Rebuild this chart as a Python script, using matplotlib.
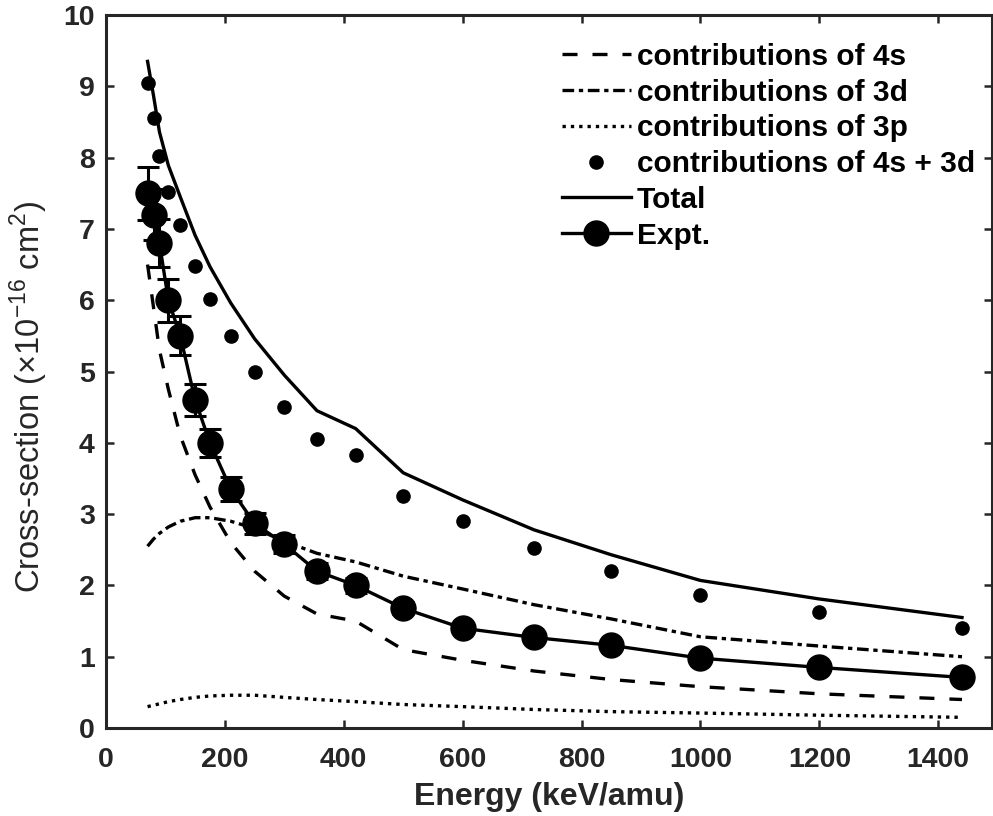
import matplotlib
matplotlib.use("Agg")
import matplotlib.pyplot as plt

plt.rcParams['font.family'] = ['Liberation Sans', 'DejaVu Sans']
plt.rcParams['mathtext.fontset'] = 'custom'
plt.rcParams['mathtext.rm'] = 'Liberation Sans'

# Impact energies (keV/amu)
energy = [70, 80, 90, 105, 125, 150, 175, 210, 250, 300, 355, 420, 500,
          600, 720, 850, 1000, 1200, 1440]

# Cross-sections (1e-16 cm^2)
sigma_4s = [6.5, 5.9, 5.3, 4.75, 4.1, 3.55, 3.1, 2.6, 2.2, 1.85, 1.6, 1.5,
            1.1, 0.95, 0.8, 0.68, 0.58, 0.48, 0.4]
sigma_3d = [2.55, 2.65, 2.73, 2.82, 2.9, 2.95, 2.95, 2.9, 2.8, 2.62, 2.45,
            2.33, 2.13, 1.95, 1.73, 1.53, 1.28, 1.15, 1.0]
sigma_3p = [0.3, 0.32, 0.34, 0.37, 0.4, 0.43, 0.45, 0.46, 0.46, 0.43, 0.4,
            0.37, 0.33, 0.3, 0.26, 0.23, 0.21, 0.18, 0.15]
sigma_4s3d = [9.05, 8.55, 8.02, 7.52, 7.05, 6.48, 6.02, 5.5, 5.0, 4.5,
              4.05, 3.83, 3.25, 2.9, 2.52, 2.2, 1.86, 1.63, 1.4]
sigma_total = [9.35, 8.87, 8.36, 7.89, 7.45, 6.91, 6.47, 5.96, 5.46, 4.95,
               4.45, 4.2, 3.58, 3.2, 2.78, 2.43, 2.07, 1.81, 1.55]

# Measured values with 5% uncertainty
expt = [7.5, 7.2, 6.8, 6.0, 5.5, 4.6, 4.0, 3.35, 2.87, 2.58, 2.2, 2.0,
        1.68, 1.4, 1.27, 1.16, 0.98, 0.85, 0.71]
expt_err = [0.05 * v for v in expt]

fig = plt.figure(figsize=(9.93, 8.16), dpi=100)
ax = fig.add_axes([0.1067, 0.1078, 0.892, 0.8738])

ink = '#262626'
lw = 2.4
ax.plot(energy, sigma_4s, color='black', lw=lw, ls=(0, (4.5, 4.5)),
        label='contributions of 4s')
ax.plot(energy, sigma_3d, color='black', lw=lw, ls=(0, (3.5, 1.4, 1.3, 1.4)),
        label='contributions of 3d')
ax.plot(energy, sigma_3p, color='black', lw=lw, ls=(0, (1, 1.5)),
        label='contributions of 3p')
ax.plot(energy, sigma_4s3d, color='black', ls='none', marker='o', ms=9.5,
        label='contributions of 4s + 3d')
ax.plot(energy, sigma_total, color='black', lw=lw, label='Total')
ax.errorbar(energy, expt, yerr=expt_err, fmt='none', ecolor='black',
            capsize=8, capthick=2.2, elinewidth=2.2)
ax.plot(energy, expt, color='black', lw=lw, marker='o', ms=18,
        label='Expt.')

ax.set_xlim(0, 1490)
ax.set_ylim(0, 10)
ax.set_xticks(range(0, 1401, 200))
ax.set_yticks(range(0, 11))

for side in ax.spines.values():
    side.set_linewidth(2.2)
    side.set_color(ink)
ax.tick_params(direction='in', top=True, right=True, length=6, width=1.8,
               colors=ink, labelsize=20.5)
ax.tick_params(axis='y', pad=8)
ax.tick_params(axis='x', pad=14)
for lab in ax.get_xticklabels() + ax.get_yticklabels():
    lab.set_fontweight('bold')

ax.set_xlabel('Energy (keV/amu)', fontsize=23, fontweight='bold',
              color=ink, labelpad=6)
ax.set_ylabel(r'Cross-section ($\times$10$^{-16}$ cm$^2$)', fontsize=23.5,
              color=ink)
ax.yaxis.set_label_coords(-0.063, 0.464)

leg = ax.legend(loc='upper right', frameon=False, handlelength=2.3,
                handletextpad=0.2, labelspacing=0.26, borderpad=0,
                borderaxespad=0, bbox_to_anchor=(0.981, 0.961),
                prop={'weight': 'bold', 'size': 21.5})

fig.savefig('out.png', dpi=100)
